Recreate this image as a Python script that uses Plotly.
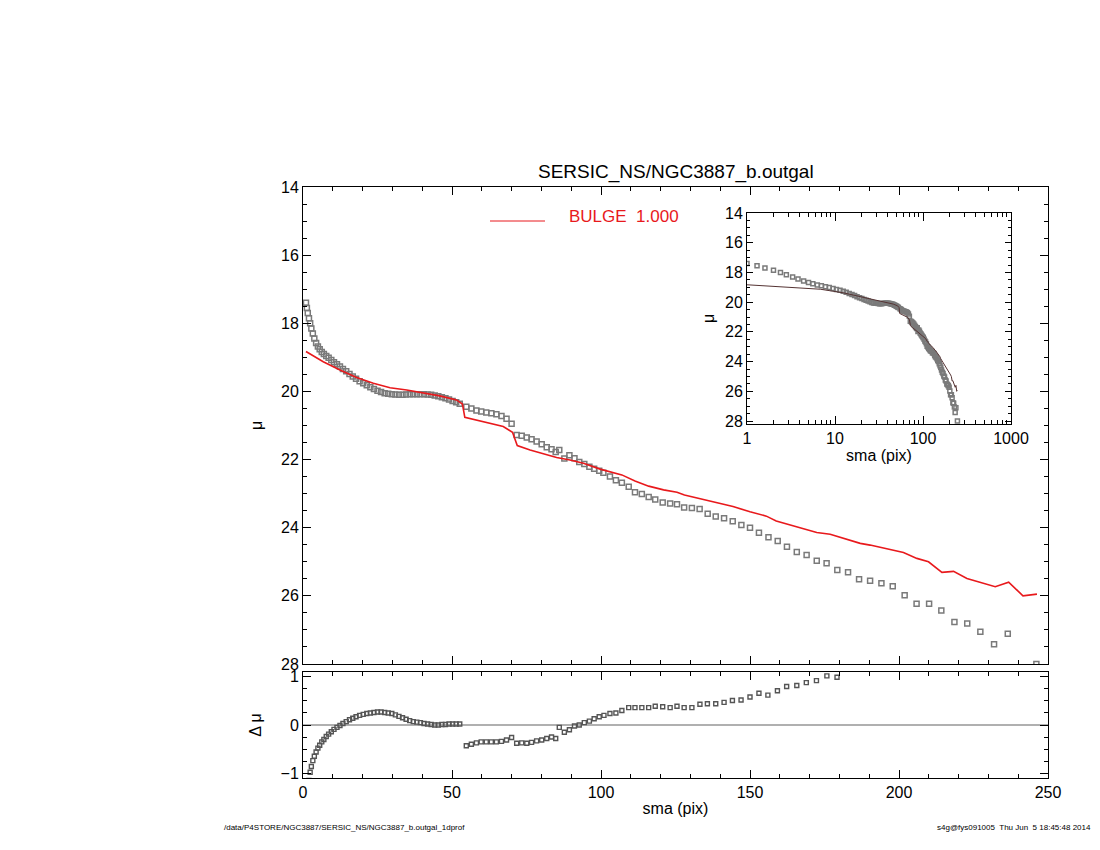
import plotly.graph_objects as go

# observed profile (sma in pix, mu)
obs_sma = [1.0, 1.3, 1.6, 2.0, 2.4, 2.8, 3.3, 3.8, 4.4, 5.0, 5.6, 6.3, 7.0, 7.8, 8.6, 9.5,
           10.4, 11.4, 12.4, 13.4, 14.5, 15.6, 16.7, 17.8, 19.0, 20.2, 21.4, 22.6, 23.8,
           25.0, 26.2, 27.4, 28.6, 29.8, 31.0, 32.2, 33.4, 34.6, 35.8, 37.0, 38.2, 39.4,
           40.6, 41.8, 43.0, 44.2, 45.4, 46.6, 47.8, 49.0, 50.2, 51.4, 52.6,
           54.8, 56.5, 58.2, 59.8, 61.5, 63.2, 64.9, 66.6, 68.3, 70.0,
           71.7, 73.4, 75.1, 76.7, 78.4, 80.1, 81.8, 83.4, 84.8, 86.0, 87.7, 89.4, 91.1,
           92.7, 94.4, 96.1, 97.7, 99.4, 100.8, 103.0, 105.0, 107.0, 109.3, 111.4, 113.7,
           116.0, 118.2, 120.7, 123.2, 125.5, 127.9, 130.5, 133.1, 135.8, 138.5, 141.3,
           144.2, 147.1, 150.0, 153.0, 156.2, 159.3, 162.4, 165.7, 169.0, 172.4, 175.7,
           179.3, 182.9, 186.6, 190.3, 194.1, 197.9, 201.9, 205.9, 210.1, 214.2, 218.6,
           222.9, 227.3, 231.9, 236.5, 246.1]
obs_mu = [17.4, 17.55, 17.7, 17.85, 18.0, 18.15, 18.3, 18.45, 18.58, 18.68, 18.76, 18.84,
          18.9, 18.96, 19.01, 19.08, 19.14, 19.2, 19.27, 19.34, 19.41, 19.49, 19.56, 19.63,
          19.7, 19.76, 19.82, 19.88, 19.93, 19.98, 20.02, 20.05, 20.07, 20.08, 20.09, 20.1,
          20.1, 20.09, 20.08, 20.08, 20.08, 20.08, 20.08, 20.09, 20.1, 20.12, 20.14, 20.17,
          20.2, 20.24, 20.28, 20.32, 20.36,
          20.45, 20.5, 20.56, 20.59, 20.62, 20.64, 20.67, 20.72, 20.8, 20.95,
          21.28, 21.3, 21.35, 21.4, 21.47, 21.55, 21.64, 21.7, 21.78, 21.72, 21.97, 21.87,
          21.96, 22.07, 22.13, 22.21, 22.27, 22.33, 22.39, 22.5, 22.61, 22.68, 22.8, 22.96,
          23.01, 23.1, 23.17, 23.26, 23.29, 23.31, 23.41, 23.42, 23.45, 23.59, 23.67, 23.72,
          23.81, 23.92, 24.0, 24.15, 24.28, 24.39, 24.56, 24.71, 24.8, 24.97, 25.04, 25.24,
          25.31, 25.51, 25.56, 25.63, 25.72, 25.98, 26.23, 26.23, 26.43, 26.77, 26.81,
          27.05, 27.42, 27.11, 28.0]

# bulge model
mod_sma = [1.0, 6.8, 12.4, 18.0, 23.6, 29.2, 34.8, 40.4, 45.9, 51.5, 53.5, 54.3, 58.2,
           62.7, 67.2, 70.3, 71.9, 76.2, 80.6, 85.1, 89.6, 94.1, 99.7, 107.0, 111.4, 116.0,
           121.0, 125.5, 128.0, 133.0, 138.7, 144.3, 150.0, 155.5, 158.8, 163.4, 167.8,
           172.4, 176.9, 183.0, 187.0, 190.3, 195.9, 201.5, 206.0, 209.9, 214.4, 218.3,
           222.8, 227.3, 232.3, 236.8, 241.6, 246.3]
mod_mu = [18.83, 19.13, 19.37, 19.59, 19.76, 19.89, 19.96, 20.04, 20.13, 20.25, 20.37,
          20.76, 20.84, 20.94, 21.03, 21.2, 21.59, 21.72, 21.84, 21.94, 22.01, 22.11, 22.28,
          22.45, 22.63, 22.78, 22.89, 22.96, 23.04, 23.14, 23.26, 23.38, 23.53, 23.66, 23.8,
          23.92, 24.02, 24.14, 24.19, 24.36, 24.46, 24.51, 24.61, 24.73, 24.9, 25.0, 25.31,
          25.28, 25.49, 25.6, 25.73, 25.6, 26.0, 25.95]

# residuals (delta mu)
res_sma = [2.0, 2.4, 2.8, 3.3, 3.8, 4.4, 5.0, 5.6, 6.3, 7.0, 7.8, 8.6, 9.5, 10.4, 11.4,
           12.4, 13.4, 14.5, 15.6, 16.7, 17.8, 19.0, 20.2, 21.4, 22.6, 23.8, 25.0, 26.2,
           27.4, 28.6, 29.8, 31.0, 32.2, 33.4, 34.6, 35.8, 37.0, 38.2, 39.4, 40.6, 41.8,
           43.0, 44.2, 45.4, 46.6, 47.8, 49.0, 50.2, 51.4, 52.6,
           54.8, 56.5, 58.2, 59.8, 61.5, 63.2, 64.9, 66.6, 68.3, 70.0, 71.7, 73.4, 75.1,
           76.7, 78.4, 80.1, 81.8, 83.4, 84.8, 86.0, 87.7, 89.4, 91.1, 92.7, 94.4, 96.1,
           97.7, 99.4, 101.0, 103.0, 105.0, 107.0, 109.3, 111.4, 113.7, 116.0, 118.2,
           120.7, 123.2, 125.5, 127.9, 130.5, 133.2, 135.7, 138.5, 141.3, 144.1, 147.0,
           150.0, 153.0, 156.0, 159.2, 162.3, 165.7, 168.9, 172.3, 175.8, 179.2, 182.8]
res_dmu = [-1.15, -0.98, -0.86, -0.74, -0.65, -0.56, -0.48, -0.42, -0.35, -0.3, -0.24,
           -0.19, -0.14, -0.09, -0.05, -0.01, 0.03, 0.07, 0.11, 0.14, 0.17, 0.2, 0.22, 0.24,
           0.25, 0.26, 0.27, 0.27, 0.26, 0.25, 0.24, 0.21, 0.18, 0.15, 0.12, 0.09, 0.07,
           0.06, 0.05, 0.03, 0.02, 0.01, 0.0, 0.0, 0.01, 0.01, 0.02, 0.02, 0.02, 0.02,
           -0.43, -0.4, -0.37, -0.35, -0.35, -0.35, -0.35, -0.34, -0.31, -0.26, -0.38,
           -0.37, -0.38, -0.36, -0.33, -0.31, -0.28, -0.25, -0.28, -0.05, -0.15, -0.1,
           -0.02, 0.0, 0.05, 0.08, 0.13, 0.17, 0.2, 0.24, 0.25, 0.3, 0.36, 0.36, 0.36, 0.36,
           0.39, 0.38, 0.36, 0.39, 0.36, 0.36, 0.43, 0.44, 0.44, 0.47, 0.51, 0.52, 0.58,
           0.66, 0.62, 0.71, 0.8, 0.82, 0.88, 0.92, 1.02, 0.99]

FONT = "Liberation Sans, Arial, sans-serif"
GRAY = "#7a7a7a"
W, H = 1100, 850
L, R, T, B = 200, 20, 150, 40
PW, PH = W - L - R, H - T - B
OFF = 8  # page offset seen in the rendered shot


def px(x):
    return (x - OFF - L) / PW


def py(y):
    return (H - B - (y - OFF)) / PH


fig = go.Figure()
sq = dict(symbol="square-open", size=5, color=GRAY, line=dict(width=1.5, color=GRAY))
fig.add_trace(go.Scatter(x=obs_sma, y=obs_mu, mode="markers", marker=sq,
                         xaxis="x", yaxis="y"))
fig.add_trace(go.Scatter(x=mod_sma, y=mod_mu, mode="lines",
                         line=dict(color="#e8191c", width=1.6), xaxis="x", yaxis="y"))
fig.add_trace(go.Scatter(x=[0, 250], y=[0, 0], mode="lines",
                         line=dict(color="#b0b0b0", width=2), xaxis="x2", yaxis="y2"))
fig.add_trace(go.Scatter(x=res_sma, y=res_dmu, mode="markers",
                         marker=dict(symbol="square-open", size=4, color="#555",
                                     line=dict(width=1.4, color="#555")),
                         xaxis="x2", yaxis="y2"))
fig.add_trace(go.Scatter(x=obs_sma, y=obs_mu, mode="markers",
                         marker=dict(symbol="square-open", size=4, color=GRAY,
                                     line=dict(width=1.5, color=GRAY)),
                         xaxis="x3", yaxis="y3"))
fig.add_trace(go.Scatter(x=mod_sma, y=mod_mu, mode="lines",
                         line=dict(color="#553333", width=1), xaxis="x3", yaxis="y3"))

ax = dict(showline=True, linecolor="black", linewidth=1, mirror="allticks", ticks="inside",
          showgrid=False, zeroline=False, tickfont=dict(size=16, family=FONT, color="black"),
          tickcolor="black", automargin=False)
xdom = [px(303), px(1048)]
fig.update_layout(
    width=W, height=H, margin=dict(l=L, r=R, t=T, b=B),
    paper_bgcolor="white", plot_bgcolor="white", showlegend=False,
    font=dict(family=FONT, color="black"),
    xaxis=dict(ax, domain=xdom, range=[0, 250], dtick=50, showticklabels=False,
               minor=dict(ticks="inside", dtick=10, tickcolor="black", ticklen=4),
               anchor="y", ticklen=8),
    yaxis=dict(ax, domain=[py(664), py(187)], range=[28, 14], dtick=2,
               minor=dict(ticks="inside", dtick=0.5, tickcolor="black", ticklen=4),
               anchor="x", ticklen=8,
               title=dict(text="μ", font=dict(size=16), standoff=14)),
    xaxis2=dict(ax, domain=xdom, range=[0, 250], dtick=50, anchor="y2", ticklen=8,
                minor=dict(ticks="inside", dtick=10, tickcolor="black", ticklen=4),
                title=dict(text="sma (pix)", font=dict(size=16), standoff=2)),
    yaxis2=dict(ax, domain=[py(778), py(672)], range=[-1.1, 1.1], dtick=1,
                anchor="x2", ticklen=8,
                minor=dict(ticks="inside", dtick=0.25, tickcolor="black", ticklen=4),
                title=dict(text="Δ μ", font=dict(size=16), standoff=14)),
    xaxis3=dict(ax, domain=[px(747), px(1011)], type="log", range=[0, 3],
                anchor="y3", ticklen=8, tickvals=[1, 10, 100, 1000],
                ticktext=["1", "10", "100", "1000"],
                minor=dict(ticks="inside", tickcolor="black", ticklen=4,
                           tickvals=[2, 3, 4, 5, 6, 7, 8, 9, 20, 30, 40, 50, 60, 70, 80, 90,
                                     200, 300, 400, 500, 600, 700, 800, 900]),
                title=dict(text="sma (pix)", font=dict(size=16), standoff=2)),
    yaxis3=dict(ax, domain=[py(424), py(213)], range=[28.2, 14], dtick=2,
                anchor="x3", ticklen=6,
                minor=dict(ticks="inside", dtick=0.5, tickcolor="black", ticklen=3),
                title=dict(text="μ", font=dict(size=16), standoff=6)),
)

fig.add_annotation(text="SERSIC_NS/NGC3887_b.outgal", x=px(676), y=py(172),
                   yanchor="middle", xref="paper", yref="paper", showarrow=False,
                   font=dict(size=19))
fig.add_shape(type="line", xref="paper", yref="paper", x0=px(490), x1=px(545),
              y0=py(221), y1=py(221), line=dict(color="#e8191c", width=1))
fig.add_annotation(text="BULGE  1.000", x=px(567), y=py(216), xanchor="left",
                   yanchor="middle", xref="paper", yref="paper", showarrow=False,
                   font=dict(size=17, color="#e8191c"))
fig.add_annotation(text="/data/P4STORE/NGC3887/SERSIC_NS/NGC3887_b.outgal_1dprof",
                   x=px(222), y=py(827), xanchor="left", yanchor="middle", xref="paper",
                   yref="paper", showarrow=False, font=dict(size=8))
fig.add_annotation(text="s4g@fys091005  Thu Jun  5 18:45:48 2014", x=px(1093),
                   y=py(827), xanchor="right", yanchor="middle", xref="paper",
                   yref="paper", showarrow=False, font=dict(size=8))

fig.write_html("out.html")
